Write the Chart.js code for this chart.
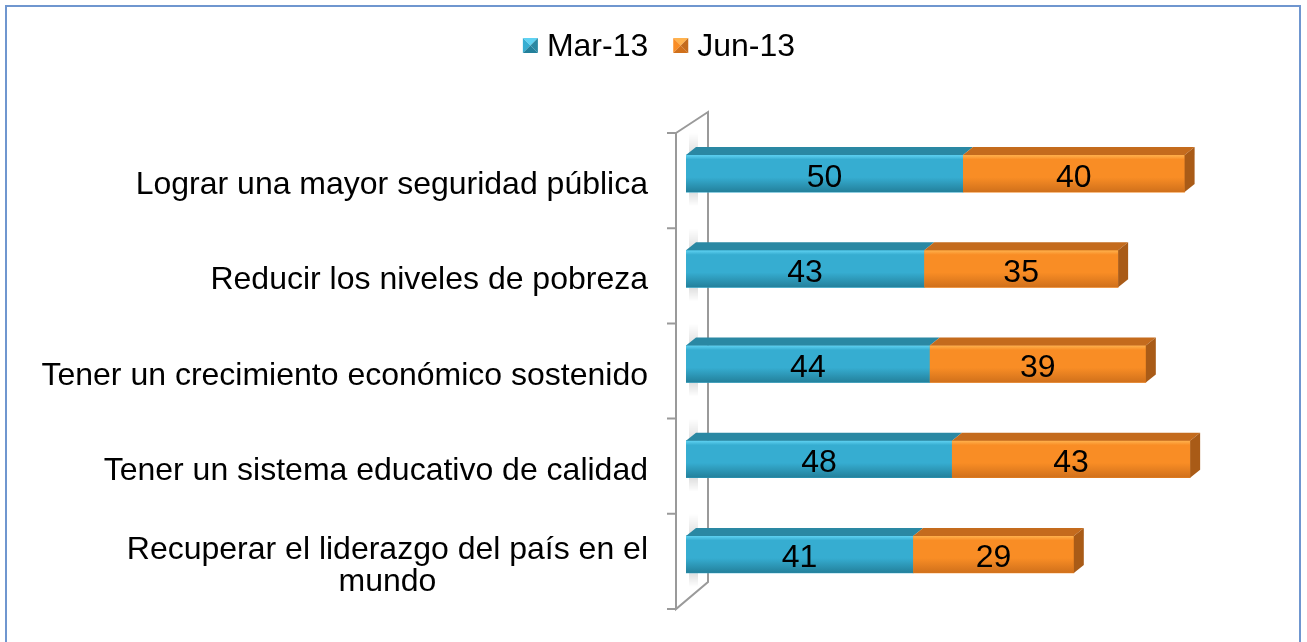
<!DOCTYPE html>
<html>
<head>
<meta charset="utf-8">
<script src="https://cdn.jsdelivr.net/npm/chart.js@4.4.1/dist/chart.umd.min.js"></script>
<style>
  html, body { margin: 0; padding: 0; background: #fff; overflow: hidden; }
  canvas { position: absolute; left: 0; top: 0; }
  #frame { position: absolute; left: 5px; top: 5px; width: 1296px; height: 700px;
           border: 2px solid #6f96cf; box-sizing: border-box; pointer-events: none; }
</style>
</head>
<body>
<canvas id="barChart" width="1307" height="642"></canvas>
<div id="frame"></div>
<script>
const categories = [
  ['Lograr una mayor seguridad pública'],
  ['Reducir los niveles de pobreza'],
  ['Tener un crecimiento económico sostenido'],
  ['Tener un sistema educativo de calidad'],
  ['Recuperar el liderazgo del país en el', 'mundo']
];
const seriesNames = ['Mar-13', 'Jun-13'];
const mar13 = [50, 43, 44, 48, 41];
const jun13 = [40, 35, 39, 43, 29];

const FONT = '32px "Liberation Sans", Arial, sans-serif';
const DX = 10, DY = 8;   // depth of the 3d bars
const colors = [
  { front: '#36add1', top: '#2a88a3', side: '#22728a', light: '#5fd2f2', dark: '#23809b' },
  { front: '#f98d25', top: '#c46b1d', side: '#a95b17', light: '#ffb24e', dark: '#d0701b' }
];

// draws the wall, 3d faces, value labels, category labels and the legend
const bar3d = {
  id: 'bar3d',
  beforeDatasetsDraw(chart) {
    const { ctx, chartArea } = chart;
    const band = (chartArea.bottom - chartArea.top) / categories.length;
    const fx = chartArea.left - 10, bx = chartArea.left + 22;
    const t = chartArea.top + 7, b = chartArea.bottom + 7;
    ctx.save();
    // soft shadow of the bars on the wall
    chart.getDatasetMeta(0).data.forEach(el => {
      const p = el.getProps(['y', 'height'], true);
      const top = p.y - p.height / 2, bot = p.y + p.height / 2;
      let g = ctx.createLinearGradient(0, top - 22, 0, top);
      g.addColorStop(0, 'rgba(0,0,0,0)');
      g.addColorStop(1, 'rgba(0,0,0,0.13)');
      ctx.fillStyle = g;
      ctx.fillRect(chartArea.left + 3, top - 22, 9, 22);
      g = ctx.createLinearGradient(0, bot, 0, bot + 14);
      g.addColorStop(0, 'rgba(0,0,0,0.13)');
      g.addColorStop(1, 'rgba(0,0,0,0)');
      ctx.fillStyle = g;
      ctx.fillRect(chartArea.left + 3, bot, 9, 14);
    });
    ctx.strokeStyle = '#9a9a9a';
    ctx.lineWidth = 2;
    ctx.beginPath();
    ctx.moveTo(fx, t); ctx.lineTo(fx, b); ctx.lineTo(bx, b - 27);
    ctx.lineTo(bx, t - 21); ctx.lineTo(fx, t);
    for (let i = 0; i <= categories.length; i++) {
      const yy = t + i * band;
      ctx.moveTo(fx - 9, yy); ctx.lineTo(fx, yy);
    }
    ctx.stroke();
    ctx.restore();
  },
  afterDatasetsDraw(chart) {
    const { ctx } = chart;
    const last = chart.data.datasets.length - 1;
    ctx.save();
    chart.data.datasets.forEach((ds, di) => {
      const c = colors[di];
      chart.getDatasetMeta(di).data.forEach((el, i) => {
        const p = el.getProps(['x', 'y', 'base', 'height'], true);
        const l = Math.min(p.base, p.x), r = Math.max(p.base, p.x);
        const top = p.y - p.height / 2, bot = p.y + p.height / 2;
        // front shading
        const g = ctx.createLinearGradient(0, top, 0, bot);
        g.addColorStop(0, c.light);
        g.addColorStop(0.12, c.front);
        g.addColorStop(0.6, c.front);
        g.addColorStop(1, c.dark);
        ctx.fillStyle = g;
        ctx.fillRect(l, top, r - l, bot - top);
        // top face
        ctx.fillStyle = c.top;
        ctx.beginPath();
        ctx.moveTo(l, top); ctx.lineTo(l + DX, top - DY);
        ctx.lineTo(r + DX, top - DY); ctx.lineTo(r, top);
        ctx.closePath(); ctx.fill();
        // right side face
        if (di === last) {
          ctx.fillStyle = c.side;
          ctx.beginPath();
          ctx.moveTo(r, top); ctx.lineTo(r + DX, top - DY);
          ctx.lineTo(r + DX, bot - DY); ctx.lineTo(r, bot);
          ctx.closePath(); ctx.fill();
        }
        // value
        ctx.fillStyle = '#000';
        ctx.font = FONT;
        ctx.textAlign = 'center';
        ctx.textBaseline = 'alphabetic';
        ctx.fillText(String(ds.data[i]), (l + r) / 2, p.y + 13);
      });
    });
    ctx.restore();
  },
  afterDraw(chart) {
    const { ctx, chartArea, scales: { y } } = chart;
    ctx.save();
    ctx.font = FONT;
    ctx.fillStyle = '#000';
    ctx.textBaseline = 'alphabetic';
    ctx.textAlign = 'center';
    const right = chartArea.left - 38;
    categories.forEach((lines, i) => {
      const w = Math.max(...lines.map(s => ctx.measureText(s).width));
      const cx = right - w / 2;
      const cy = y.getPixelForValue(i) + 10;
      lines.forEach((s, k) => {
        ctx.fillText(s, cx, cy + 10.5 + (k - (lines.length - 1) / 2) * 32);
      });
    });
    // legend
    ctx.textAlign = 'left';
    const box = 15, gap = 9, between = 25;
    const widths = seriesNames.map(s => ctx.measureText(s).width);
    const total = widths.reduce((a, w) => a + box + gap + w, 0) + between * (seriesNames.length - 1);
    let x = 659 - total / 2;
    seriesNames.forEach((s, i) => {
      const c = colors[i];
      const y0 = 38, cxm = x + box / 2, cym = y0 + box / 2;
      const tri = (pts, col) => {
        ctx.fillStyle = col;
        ctx.beginPath();
        ctx.moveTo(pts[0], pts[1]); ctx.lineTo(pts[2], pts[3]); ctx.lineTo(cxm, cym);
        ctx.closePath(); ctx.fill();
      };
      tri([x, y0, x + box, y0], c.light);
      tri([x, y0, x, y0 + box], c.front);
      tri([x + box, y0, x + box, y0 + box], c.top);
      tri([x, y0 + box, x + box, y0 + box], c.dark);
      ctx.fillStyle = '#000';
      ctx.fillText(s, x + box + gap, 56);
      x += box + gap + widths[i] + between;
    });
    ctx.restore();
  }
};

new Chart(document.getElementById('barChart').getContext('2d'), {
  type: 'bar',
  data: {
    labels: categories,
    datasets: [
      { label: seriesNames[0], data: mar13, backgroundColor: colors[0].front, borderWidth: 0, barThickness: 37 },
      { label: seriesNames[1], data: jun13, backgroundColor: colors[1].front, borderWidth: 0, barThickness: 37 }
    ]
  },
  options: {
    indexAxis: 'y',
    responsive: false,
    animation: false,
    devicePixelRatio: 1,
    layout: { padding: { left: 686, right: 67, top: 126, bottom: 40 } },
    scales: {
      x: { stacked: true, min: 0, max: 100, display: false },
      y: { stacked: true, display: false }
    },
    plugins: {
      legend: { display: false },
      tooltip: { enabled: false }
    }
  },
  plugins: [bar3d]
});
</script>
</body>
</html>
